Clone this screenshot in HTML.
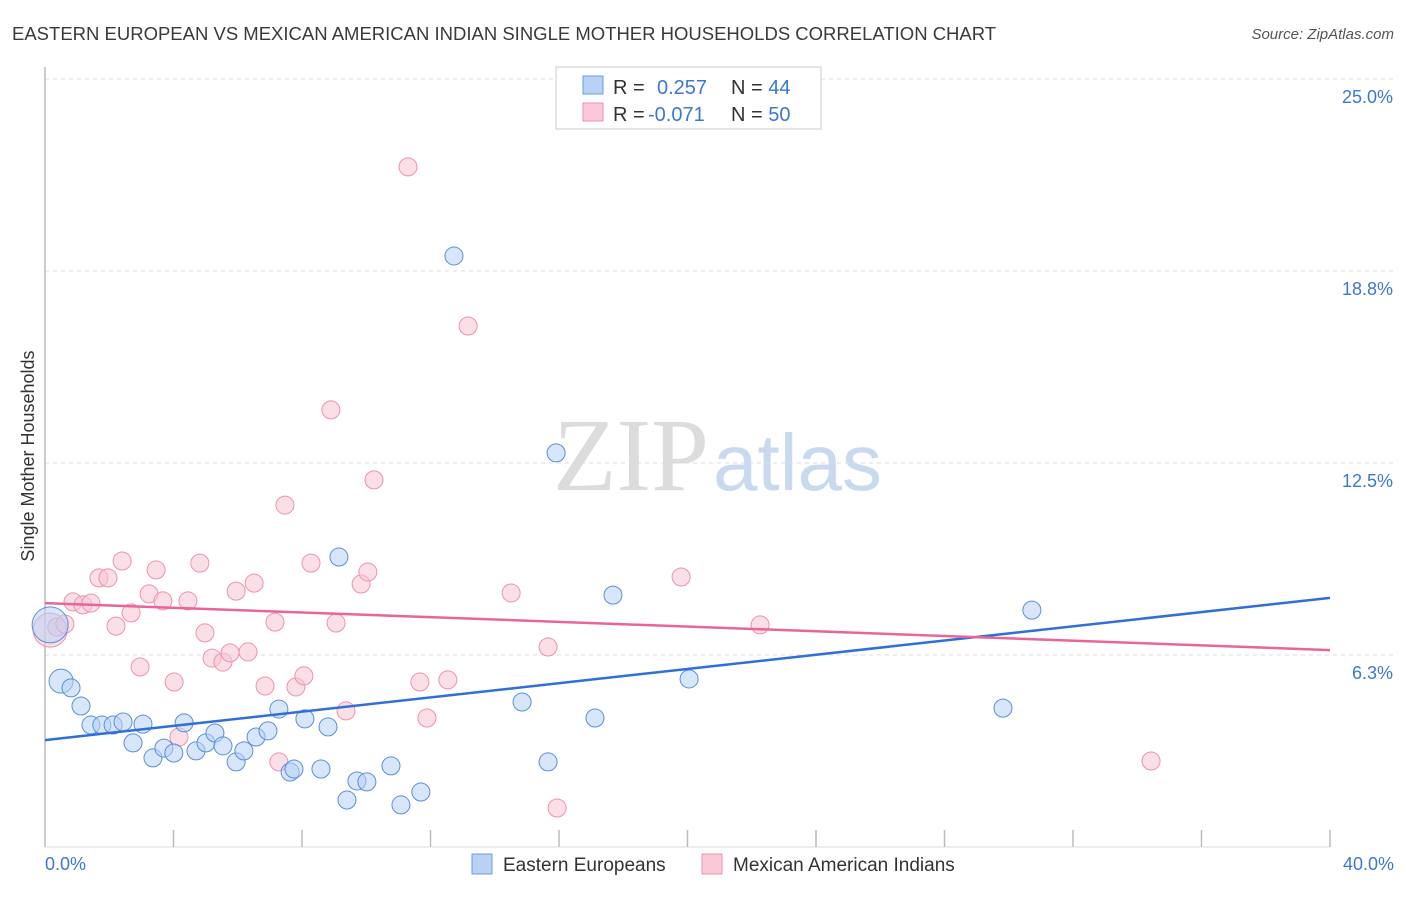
<!DOCTYPE html>
<html><head><meta charset="utf-8"><style>
body{margin:0;background:#fff;font-family:"Liberation Sans",sans-serif;}
svg text{font-family:"Liberation Sans",sans-serif;}
</style></head><body>
<svg id="chart" width="1406" height="892" xmlns="http://www.w3.org/2000/svg">
<text x="12" y="40" font-size="18.5" fill="#3a3a3a">EASTERN EUROPEAN VS MEXICAN AMERICAN INDIAN SINGLE MOTHER HOUSEHOLDS CORRELATION CHART</text>
<text x="1394" y="39" font-size="15" fill="#555" font-style="italic" text-anchor="end">Source: ZipAtlas.com</text>
<text x="553" y="490" font-size="104"><tspan fill="#dcdcdc" font-family="Liberation Serif">ZIP</tspan><tspan fill="#c9d9f0" font-size="80" dx="4">atlas</tspan></text>
<g id="grid"></g>
<line x1="45" y1="67" x2="45" y2="847" stroke="#bbb" stroke-width="1.5"/>
<line x1="45" y1="847" x2="1330" y2="847" stroke="#ddd" stroke-width="1"/>
<g id="ticks"></g>
<text transform="translate(34,456) rotate(-90)" font-size="18" fill="#333" text-anchor="middle">Single Mother Households</text>
<text x="45" y="870" font-size="18" fill="#3a78d4">0.0%</text>
<text x="1394" y="870" font-size="18" fill="#3a78d4" text-anchor="end">40.0%</text>
<g id="points"></g>
<g id="lines"></g>
<g>
<rect x="556" y="67" width="265" height="62" fill="#fff" stroke="#ccc"/>
<rect x="583" y="76" width="20" height="18" fill="#b8d2f5" stroke="#6b9be0"/>
<rect x="583" y="103" width="20" height="18" fill="#fac8d6" stroke="#eb93ad"/>
<text x="613" y="94" font-size="20" fill="#333">R = <tspan fill="#3a78d4" x="657">0.257</tspan><tspan x="731">N = </tspan><tspan fill="#3a78d4">44</tspan></text>
<text x="613" y="121" font-size="20" fill="#333">R = <tspan fill="#3a78d4" x="648">-0.071</tspan><tspan x="731">N = </tspan><tspan fill="#3a78d4">50</tspan></text>
</g>
<g>
<rect x="472" y="854" width="20" height="20" fill="#b8d2f5" stroke="#6b9be0"/>
<text x="503" y="871" font-size="19" fill="#333">Eastern Europeans</text>
<rect x="702" y="854" width="20" height="20" fill="#fac8d6" stroke="#eb93ad"/>
<text x="733" y="871" font-size="19" fill="#333">Mexican American Indians</text>
</g>
</svg>
<script>
const yTicks=[6.25,12.5,18.75,25];
const yTickLabels=["6.3%","12.5%","18.8%","25.0%"];
const xTicks=[4,8,12,16,20,24,28,32,36,40];
const blueX=[.16,.50,.81,1.12,1.43,1.77,2.12,2.43,3.05,2.74,3.36,3.70,4.01,4.33,4.70,5.01,5.29,5.54,5.95,6.19,6.57,6.94,7.28,7.63,7.75,8.09,8.59,8.81,9.15,9.40,9.71,10.02,10.77,11.08,11.70,12.73,14.85,15.66,15.91,17.12,17.68,20.05,29.82,30.72];
const blueY=[7.23,5.40,5.18,4.59,3.97,3.97,3.97,4.07,4.00,3.39,2.90,3.22,3.06,4.04,3.13,3.39,3.71,3.29,2.77,3.13,3.58,3.78,4.49,2.44,2.54,4.17,2.54,3.91,9.44,1.53,2.15,2.12,2.64,1.37,1.79,19.24,4.72,2.77,12.83,4.20,8.20,5.47,4.52,7.71];
const pinkX=[.16,.37,.62,.87,1.18,1.43,1.68,1.96,2.21,2.40,2.68,2.96,3.24,3.46,3.67,4.02,4.17,4.45,4.82,4.98,5.20,5.54,5.76,5.95,6.32,6.51,6.85,7.16,7.28,7.47,7.81,8.06,8.28,8.90,9.06,9.37,9.84,10.05,10.24,11.30,11.67,11.89,12.54,13.17,14.51,15.66,15.94,19.80,22.26,34.43];
const pinkY=[7.06,7.16,7.26,7.98,7.88,7.94,8.76,8.76,7.19,9.31,7.62,5.86,8.24,9.02,8.01,5.37,3.58,8.01,9.24,6.97,6.15,6.02,6.32,8.33,6.35,8.59,5.24,7.32,2.77,11.13,5.21,5.57,9.24,14.23,7.29,4.43,8.56,8.95,11.95,22.14,5.37,4.20,5.44,16.96,8.27,6.51,1.27,8.79,7.23,2.80];
const blueTrend=[3.48,8.11];
const pinkTrend=[7.94,6.41];
const NS="http://www.w3.org/2000/svg";
const sx=v=>45+v/40*1285;
const sy=v=>847-v*30.72;
function mk(tag,attrs,parent){const e=document.createElementNS(NS,tag);for(const k in attrs)e.setAttribute(k,attrs[k]);document.getElementById(parent).appendChild(e);return e;}
yTicks.forEach((t,i)=>{
 const l=mk('line',{x1:45,x2:1394,y1:sy(t),y2:sy(t),stroke:'#ddd','stroke-dasharray':'4,4'},'grid');
 
 
 const tx=mk('text',{x:1393,y:sy(t)+24,'font-size':18,fill:'#3a78d4','text-anchor':'end'},'grid');
 tx.textContent=yTickLabels[i];
 
 
});
xTicks.forEach(t=>{
 const l=mk('line',{x1:sx(t),x2:sx(t),y1:830,y2:847,stroke:'#bbb','stroke-width':1.5},'ticks');
 
 
});
function pts(xs,ys,fill,stroke,name,big){
 xs.forEach((x,i)=>{
  const r=big[i]||9;
  const c=mk('circle',{cx:sx(x),cy:sy(ys[i]),r:r,fill:fill,'fill-opacity':0.55,stroke:stroke,'stroke-width':1},'points');
  
  
 });
}
pts(pinkX,pinkY,'#f8c4d3','#eb93ad','mexican-american-indian-point',{0:17});
pts(blueX,blueY,'#b8d2f5','#5a8fdc','eastern-european-point',{0:18,1:12});
const bl=mk('line',{x1:sx(0),y1:sy(blueTrend[0]),x2:sx(40),y2:sy(blueTrend[1]),stroke:'#2f6fd6','stroke-width':2.5},'lines');


const pl=mk('line',{x1:sx(0),y1:sy(pinkTrend[0]),x2:sx(40),y2:sy(pinkTrend[1]),stroke:'#e8659a','stroke-width':2.5},'lines');


</script>
</body></html>
